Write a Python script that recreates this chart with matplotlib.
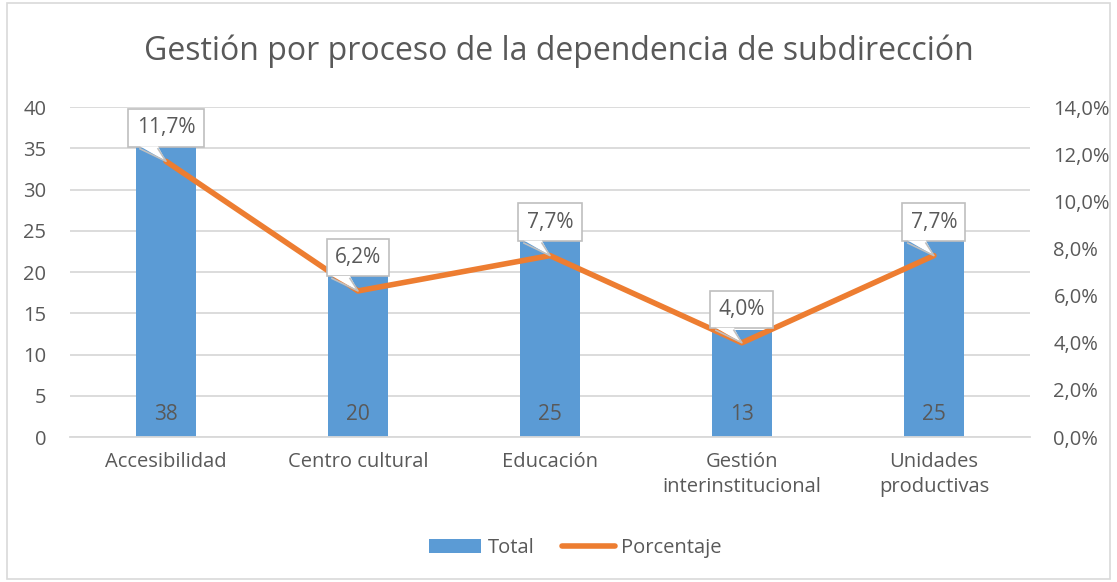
import matplotlib.pyplot as plt
import matplotlib.transforms as mtransforms
from matplotlib.patches import Rectangle, Patch, Polygon
from matplotlib.lines import Line2D

# data
categories = ["Accesibilidad", "Centro cultural", "Educación",
              "Gestión\ninterinstitucional", "Unidades\nproductivas"]
totals = [38, 20, 25, 13, 25]
percentages = [11.7, 6.2, 7.7, 4.0, 7.7]
left_ticks = [0, 5, 10, 15, 20, 25, 30, 35, 40]
right_ticks = [0, 2, 4, 6, 8, 10, 12, 14]

BLUE = "#5B9BD5"
ORANGE = "#ED7D31"
TXT = "#595959"
GRID = "#D9D9D9"
EDGE = "#BFBFBF"

plt.rcParams["font.family"] = ["Open Sans", "DejaVu Sans"]

fig = plt.figure(figsize=(11.17, 5.82), dpi=100)
ax = fig.add_axes([0.0627, 0.249, 0.8593, 0.567])
ax2 = ax.twinx()

x = list(range(len(categories)))
ax.bar(x, totals, width=0.31, color=BLUE, zorder=2)
for xi, t in zip(x, totals):
    ax.text(xi, 2.7, str(t), ha="center", va="center", fontsize=15, color=TXT, zorder=3)

ax.set_xlim(-0.5, len(categories) - 0.5)
ax.set_ylim(0, 40)
ax.set_yticks(left_ticks)
ax.set_xticks(x)
ax.set_xticklabels(categories, fontsize=14.5, color=TXT, linespacing=1.3)
ax.yaxis.grid(True, color=GRID, linewidth=1.3)
ax.set_axisbelow(True)
ax.tick_params(axis="y", length=0, labelsize=14.5, labelcolor=TXT, pad=17)
ax.tick_params(axis="x", length=0, pad=11)
for s in ["top", "left", "right"]:
    ax.spines[s].set_visible(False)
ax.spines["bottom"].set_color(GRID)
ax.spines["bottom"].set_linewidth(1.3)

ax2.plot(x, percentages, color=ORANGE, linewidth=4, solid_capstyle="round", zorder=3)
ax2.set_ylim(0, 14)
ax2.set_yticks(right_ticks)
ax2.set_yticklabels([f"{v:.1f}%".replace(".", ",") for v in right_ticks])
ax2.tick_params(axis="y", length=0, labelsize=14.5, labelcolor=TXT, pad=17)
for s in ["top", "left", "right", "bottom"]:
    ax2.spines[s].set_visible(False)

# callout labels: box + pointer towards the point
for xi, p in zip(x, percentages):
    ax2.annotate(f"{p:.1f}%".replace(".", ","), xy=(xi, p), xytext=(0, 24),
                 textcoords="offset points", ha="center", va="center",
                 fontsize=15, color=TXT, zorder=5,
                 bbox=dict(boxstyle="square,pad=0.4", fc="white", ec=EDGE, lw=1.2))
    tr = fig.dpi_scale_trans + mtransforms.ScaledTranslation(xi, p, ax2.transData)
    tri = [(-0.26, 0.15), (-0.08, 0.15), (0.0, 0.0)]
    ax2.add_patch(Polygon(tri, closed=True, fc="white", ec="none", transform=tr,
                          zorder=6, clip_on=False))
    ax2.add_line(Line2D([-0.26, 0.0, -0.08], [0.125, 0.0, 0.125], color=EDGE, lw=1.2,
                        transform=tr, zorder=6, clip_on=False))

fig.suptitle("Gestión por proceso de la dependencia de subdirección",
             y=0.94, fontsize=23, color=TXT)

handles = [Patch(facecolor=BLUE), Line2D([0], [0], color=ORANGE, lw=4, solid_capstyle="round")]
fig.legend(handles, ["Total", "Porcentaje"], loc="center", bbox_to_anchor=(0.515, 0.058),
           ncol=2, frameon=False, fontsize=14.5, labelcolor=TXT, handlelength=2.6,
           handletextpad=0.3, columnspacing=1.4)

fig.patches.append(Rectangle((0.006, 0.006), 0.988, 0.988, transform=fig.transFigure,
                             fill=False, ec="#D9D9D9", lw=1.2))

fig.savefig("out.png", dpi=100)
